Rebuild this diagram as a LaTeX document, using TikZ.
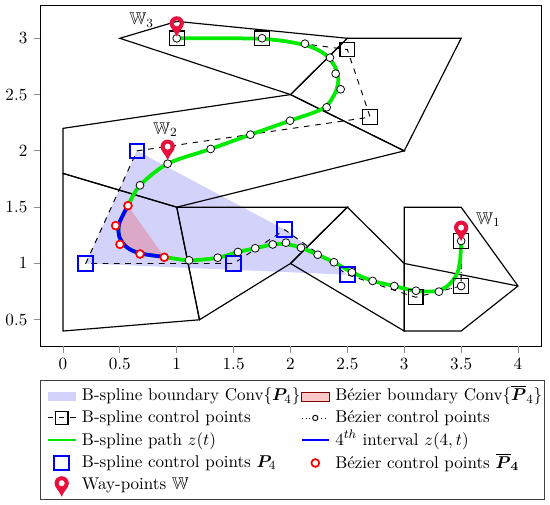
\documentclass[tikz,border=0pt]{standalone}
\usepackage{amsmath,amssymb,bm}
\definecolor{hullblue}{RGB}{210,210,250}
\definecolor{pinred}{RGB}{232,16,60}
\definecolor{hullred}{RGB}{255,200,200}
\definecolor{pathgreen}{RGB}{0,235,0}
\tikzset{
 x=72.8pt,y=72.06pt,
 every node/.append style={font=\fontsize{10.9}{13}\selectfont},
 region/.style={draw=black,line width=0.75pt,line join=miter},
 ctrlline/.style={draw=black,line width=0.6pt,dash pattern=on 3.6pt off 3.6pt},
 bezline/.style={draw=black,dotted,line width=0.5pt},
 greenpath/.style={draw=pathgreen,line width=2.4pt},
 bluepath/.style={draw=blue,line width=2.4pt},
 blacksq/.style={draw=black,line width=0.75pt,rectangle,minimum size=9.4pt,inner sep=0pt},
 bluesq/.style={draw=blue,line width=1.3pt,rectangle,minimum size=9.4pt,inner sep=0pt},
 whitedot/.style={draw=black,fill=white,line width=0.5pt,circle,minimum size=5pt,inner sep=0pt},
 reddot/.style={draw=red,fill=white,line width=1.1pt,circle,minimum size=5pt,inner sep=0pt},
 frameline/.style={draw=black!75,line width=0.6pt},
 plotframe/.style={draw=black,line width=0.6pt},
 tickmark/.style={draw=black!45,line width=0.5pt},
 ticktext/.style={inner sep=0pt},
 legtext/.style={anchor=base west,inner sep=0pt},
 waypin/.pic={
  \fill[pinred,even odd rule] (0,-8pt) .. controls (-1.2pt,-4.6pt) and (-4.6pt,-2.2pt) .. (-4.6pt,0.5pt)
    arc[start angle=180,end angle=0,radius=4.6pt]
    .. controls (4.6pt,-2.2pt) and (1.2pt,-4.6pt) .. (0,-8pt) -- cycle
    (0,0.6pt) circle[radius=2pt];
 }
}
\begin{document}
\begin{tikzpicture}
\useasboundingbox (-0.5538,-1.1448) rectangle (4.2813,3.340);
% hulls
\fill[hullblue] (0.65,2) -- (0.2,1) -- (2.5,0.9) -- (1.95,1.3) -- cycle;
\fill[red,opacity=0.2] plot[smooth] coordinates {(0.890,1.058) (0.677,1.09) (0.56,1.144) (0.495,1.238) (0.495,1.357) (0.571,1.513)} -- cycle;
% regions
\draw[region] (0.5,3) -- (1,3.15) -- (2.5,3) -- (2,2.5) -- cycle;
\draw[region] (2.5,3) -- (3.5,3) -- (3,2) -- (2,2.5) -- cycle;
\draw[region] (0,2.2) -- (2,2.5) -- (3,2) -- (1,1.5) -- (0,1.8) -- cycle;
\draw[region] (0,1.8) -- (1,1.5) -- (1.2,0.5) -- (0,0.4) -- cycle;
\draw[region] (1,1.5) -- (2.5,1.5) -- (2,1) -- (1.2,0.5) -- cycle;
\draw[region] (2.5,1.5) -- (3,1) -- (3,0.4) -- (2,1) -- cycle;
\draw[region] (3,1.5) -- (3.5,1.5) -- (4,0.8) -- (3.5,0.4) -- (3,0.4) -- cycle;
\draw[region] (3,1) -- (4,0.8);
% control polygon
\draw[ctrlline] (3.5,1.2) -- (3.5,0.8) -- (3.1,0.7) -- (2.5,0.9) -- (1.95,1.3) -- (1.5,1) -- (0.2,1) -- (0.65,2) -- (2.7,2.3) -- (2.5,2.9) -- (1.75,3) -- (1,3);
% bezier polygon
\draw[bezline] (3.5,1.2) -- (3.5,0.8) -- (3.305,0.75) -- (3.103,0.758) -- (2.913,0.80) -- (2.722,0.845) -- (2.540,0.922) -- (2.382,1.011) -- (2.239,1.078) -- (2.092,1.140) -- (1.960,1.185) -- (1.844,1.169) -- (1.690,1.135) -- (1.538,1.102) -- (1.360,1.051) -- (1.108,1.028) -- (0.890,1.055) -- (0.677,1.084) -- (0.501,1.170) -- (0.463,1.336) -- (0.571,1.513) -- (0.677,1.694) -- (0.920,1.886) -- (1.298,2.017) -- (1.647,2.144) -- (1.996,2.268) -- (2.318,2.387) -- (2.441,2.547) -- (2.397,2.686) -- (2.347,2.828) -- (2.127,2.952) -- (1.75,3) -- (1,3);
% path
\draw[greenpath] plot[smooth] coordinates {(3.5,1.2) (3.49,1.02) (3.46,0.90) (3.38,0.80) (3.28,0.755) (3.103,0.755) (2.913,0.80) (2.722,0.845) (2.540,0.922) (2.382,1.011) (2.239,1.078) (2.092,1.140) (1.960,1.172) (1.844,1.169) (1.690,1.135) (1.538,1.102) (1.360,1.051) (1.108,1.028) (0.890,1.058) (0.677,1.09) (0.56,1.144) (0.495,1.238) (0.495,1.357) (0.571,1.513) (0.677,1.694) (0.920,1.886) (1.298,2.017) (1.647,2.144) (1.996,2.268) (2.288,2.378) (2.391,2.512) (2.42,2.63) (2.391,2.748) (2.30,2.86) (2.127,2.94) (1.75,2.995) (1,3)};
\draw[bluepath] plot[smooth] coordinates {(0.890,1.058) (0.677,1.09) (0.56,1.144) (0.495,1.238) (0.495,1.357) (0.571,1.513)};
% control squares
\foreach \n/\p in {k1/{(3.5,1.2)},k2/{(3.5,0.8)},k3/{(3.1,0.7)},k4/{(2.7,2.3)},k5/{(2.5,2.9)},k6/{(1.75,3)},k7/{(1,3)}}
 \node[blacksq] (\n) at \p {};
\foreach \n/\p in {b1/{(2.5,0.9)},b2/{(1.95,1.3)},b3/{(1.5,1)},b4/{(0.2,1)},b5/{(0.65,2)}}
 \node[bluesq] (\n) at \p {};
% bezier dots
\foreach \p [count=\i] in {(3.5,1.2),(3.5,0.8),(3.305,0.75),(3.103,0.758),(2.913,0.80),(2.722,0.845),(2.540,0.922),(2.382,1.011),(2.239,1.078),(2.092,1.140),(1.960,1.185),(1.844,1.169),(1.690,1.135),(1.538,1.102),(1.360,1.051),(1.108,1.028),(0.677,1.694),(0.920,1.886),(1.298,2.017),(1.647,2.144),(1.996,2.268),(2.318,2.387),(2.441,2.547),(2.397,2.686),(2.347,2.828),(2.127,2.952),(1.75,3),(1,3)}
 \node[whitedot] (w\i) at \p {};
\foreach \p [count=\i] in {(0.890,1.055),(0.677,1.084),(0.501,1.170),(0.463,1.336),(0.571,1.513)}
 \node[reddot] (r\i) at \p {};
% way-points
\pic at (3.5,1.31) {waypin};
\pic at (0.92,2.03) {waypin};
\pic at (1,3.125) {waypin};
\node[inner sep=0pt] (w1lab) at (3.74,1.39) {$\mathbb{W}_1$};
\node[inner sep=0pt] (w2lab) at (0.9,2.19) {$\mathbb{W}_2$};
\node[inner sep=0pt] (w3lab) at (0.69,3.16) {$\mathbb{W}_3$};
% axes
\draw[plotframe] (-0.198,0.267) rectangle (4.202,3.287);
\foreach \v [count=\i] in {0,0.5,1,1.5,2,2.5,3,3.5,4}{
 \draw[tickmark] (\v,0.267) -- ++(0,-4.4pt);
 \node[ticktext,anchor=base] (xt\i) at ([yshift=-14.8pt]\v,0.267) {$\v$};
}
\foreach \v [count=\i] in {0.5,1,1.5,2,2.5,3}{
 \draw[tickmark] (-0.198,\v) -- ++(-4.4pt,0);
 \node[ticktext,anchor=east] (yt\i) at ([xshift=-8.2pt]-0.198,\v) {$\v$};
}
% legend
\draw[frameline] (-0.197,-1.0915) rectangle (4.237,-0.035);
\fill[hullblue] (-0.136,-0.14) rectangle (0.114,-0.22);
\draw[draw=red!50!black,fill=hullred,line width=0.3pt] (2.098,-0.14) rectangle (2.338,-0.22);
\draw[ctrlline] (-0.136,-0.372) -- (0.114,-0.372);
\node[blacksq,minimum size=8pt] (l1) at (-0.0114,-0.372) {};
\draw[bezline] (2.098,-0.372) -- (2.338,-0.372);
\node[whitedot,minimum size=3.4pt,line width=0.6pt] (l2) at (2.218,-0.372) {};
\draw[greenpath,line width=1.8pt] (-0.136,-0.568) -- (0.114,-0.568);
\draw[bluepath,line width=1.8pt] (2.098,-0.568) -- (2.338,-0.568);
\node[bluesq] (l3) at (-0.0114,-0.772) {};
\node[reddot] (l4) at (2.218,-0.772) {};
\pic at (-0.0114,-0.96) {waypin};
\node[legtext] (t1) at (0.164,-0.219) {B-spline boundary Conv$\{\bm{P}_4\}$};
\node[legtext] (t2) at (2.391,-0.219) {Bézier boundary Conv$\{\overline{\bm{P}}_4\}$};
\node[legtext] (t3) at (0.164,-0.414) {B-spline control points};
\node[legtext] (t4) at (2.391,-0.414) {Bézier control points};
\node[legtext] (t5) at (0.164,-0.613) {B-spline path $z(t)$};
\node[legtext] (t6) at (2.391,-0.613) {$4^{th}$ interval $z(4,t)$};
\node[legtext] (t7) at (0.164,-0.808) {B-spline control points $\bm{P}_4$};
\node[legtext] (t8) at (2.391,-0.82) {Bézier control points $\overline{\bm{P}}_{\bm{4}}$};
\node[legtext] (t9) at (0.164,-1.005) {Way-points $\mathbb{W}$};
\end{tikzpicture}
\end{document}
